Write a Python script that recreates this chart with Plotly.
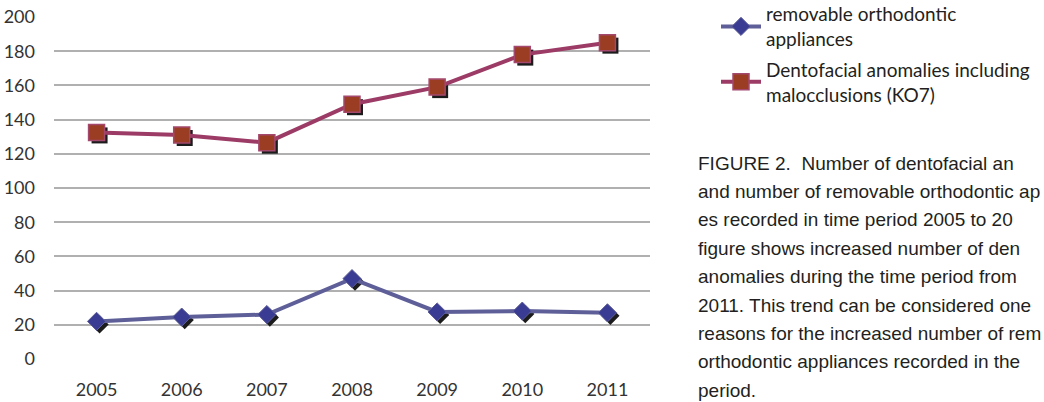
import plotly.graph_objects as go

years = ["2005", "2006", "2007", "2008", "2009", "2010", "2011"]
appliances = [22, 24.5, 26, 47, 27.5, 28, 27]
anomalies = [132.5, 131, 126.5, 149, 159, 178, 185]
y_ticks = [0, 20, 40, 60, 80, 100, 120, 140, 160, 180, 200]
name_appl = "removable orthodontic<br>appliances"
name_anom = "Dentofacial anomalies including<br>malocclusions (KO7)"
# caption as visible in the reference (cropped at the right edge)
caption_lines = [
    "FIGURE 2.  Number of dentofacial an",
    "and number of removable orthodontic ap",
    "es recorded in time period 2005 to 20",
    "figure shows increased number of den",
    "anomalies during the time period from",
    "2011. This trend can be considered one",
    "reasons for the increased number of rem",
    "orthodontic appliances recorded in the",
    "period.",
]

W, H = 1044, 402
L, R, T, B = 54, 650, 17, 359
SH = 3  # shadow offset px
YR = [0, 200]
XR = [-0.5, 6.5]
dy = SH * (YR[1] - YR[0]) / (B - T)
dx = SH * (XR[1] - XR[0]) / (R - L)

tick_font = dict(family="Lato, Open Sans, sans-serif", size=18, color="#333333")

fig = go.Figure()

# shadows on the base axes x/y (range shifted by a few pixels)
fig.add_trace(go.Scatter(x=years, y=anomalies, mode="markers",
                         marker=dict(symbol="square", size=16, color="#1c1c1c"),
                         showlegend=False, hoverinfo="skip"))
fig.add_trace(go.Scatter(x=years, y=appliances, mode="markers",
                         marker=dict(symbol="diamond", size=14, color="#1c1c1c"),
                         showlegend=False, hoverinfo="skip"))

# main series on overlay axes x2/y2 (true scale, with ticks and grid)
fig.add_trace(go.Scatter(x=years, y=appliances, mode="lines+markers", name=name_appl,
                         xaxis="x2", yaxis="y2", legendgroup="a",
                         line=dict(color="#5e5f98", width=4),
                         marker=dict(symbol="diamond", size=14, color="#3a3b93",
                                     line=dict(color="#5e5f98", width=1))))
fig.add_trace(go.Scatter(x=years, y=anomalies, mode="lines+markers", name=name_anom,
                         xaxis="x2", yaxis="y2", legendgroup="b",
                         line=dict(color="#9c3b65", width=4),
                         marker=dict(symbol="square", size=16, color="#9a3d22",
                                     line=dict(color="#a4486e", width=1.5))))

xd = [L / W, R / W]
yd = [1 - B / H, 1 - T / H]

annotations = []
y0 = 163
for i, line in enumerate(caption_lines):
    annotations.append(dict(
        text=line, xref="paper", yref="paper", x=696 / W, y=1 - (y0 + i * 28.4) / H,
        xanchor="left", yanchor="middle", showarrow=False,
        font=dict(family="Liberation Sans Narrow, Arial Narrow, sans-serif", size=19,
                  color="#231f20")))

fig.update_layout(
    template="none",
    width=W, height=H,
    margin=dict(l=0, r=0, t=0, b=0, autoexpand=False),
    paper_bgcolor="white", plot_bgcolor="rgba(0,0,0,0)",
    xaxis=dict(domain=xd, type="category", range=[XR[0] - dx, XR[1] - dx],
               visible=False, automargin=False),
    yaxis=dict(domain=yd, range=[YR[0] + dy, YR[1] + dy], visible=False,
               automargin=False),
    xaxis2=dict(overlaying="x", anchor="y2", side="bottom", type="category", range=XR,
                showgrid=False, zeroline=False, showline=False, ticks="",
                tickfont=tick_font, ticklabelstandoff=18, automargin=False),
    yaxis2=dict(overlaying="y", anchor="x2", side="left", range=YR, tickvals=y_ticks,
                showgrid=True, gridcolor="#b0b0b0", gridwidth=1.5, zeroline=False,
                showline=False, ticks="", tickfont=tick_font, ticklabelstandoff=18,
                automargin=False),
    legend=dict(x=716 / W, y=1.012, xanchor="left", yanchor="top",
                font=dict(family="Lato, Open Sans, sans-serif", size=19, color="#231f20"),
                bgcolor="rgba(0,0,0,0)", borderwidth=0, traceorder="grouped",
                tracegroupgap=3, itemwidth=40),
    annotations=annotations,
    showlegend=True,
)

fig.write_html("out.html", config={"displayModeBar": False},
               post_script="document.body.style.margin='0px';")
